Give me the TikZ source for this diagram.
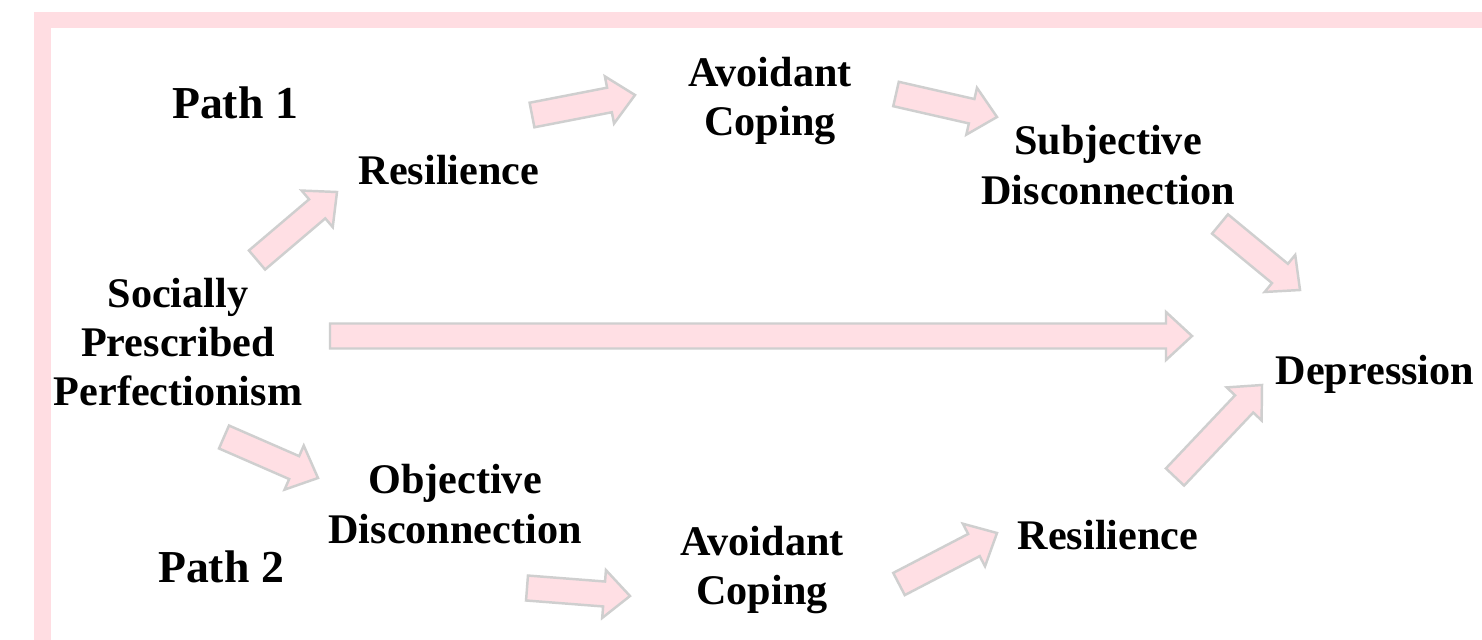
\documentclass[tikz,border=0pt]{standalone}
\usepackage{fontspec}
\setmainfont{Liberation Serif}
\usetikzlibrary{calc}

\definecolor{framepink}{HTML}{FFDDE2}
\definecolor{arrowpink}{HTML}{FFDFE4}
\definecolor{arrowgray}{HTML}{CFCFCF}

\tikzset{
  lbl/.style={font=\fontsize{12}{14}\selectfont\bfseries,align=center,inner sep=0pt},
  pathlbl/.style={font=\fontsize{13}{15}\selectfont\bfseries,inner sep=0pt},
  blockarr/.style={fill=arrowpink,draw=arrowgray,line width=0.7pt,line join=miter}
}

% block arrow from #1 (tail) to #2 (tip)
\newcommand{\blockarrow}[2]{%
  \coordinate (ba) at ($(#2)!0.26cm!(#1)$);
  \path [blockarr]
    ($(#1)!0.125cm!90:(#2)$) -- ($(ba)!0.125cm!-90:(#1)$)
    -- ($(ba)!0.24cm!-90:(#1)$) -- (#2)
    -- ($(ba)!0.24cm!90:(#1)$) -- ($(ba)!0.125cm!90:(#1)$)
    -- ($(#1)!0.125cm!-90:(#2)$) -- cycle;
}

\begin{document}
\begin{tikzpicture}[x=0.01cm,y=-0.01cm]

\useasboundingbox (0,0) rectangle (1482,639);
\fill [white] (0,0) rectangle (1482,639);

% frame
\draw [framepink,line width=0.16cm] (42.5,800) |- (1700,20);

\node [pathlbl] (path1) at (235,103) {Path 1};
\node [pathlbl] (path2) at (221,567) {Path 2};

\node [lbl] (spp) at (178,342) {Socially\\Prescribed\\Perfectionism};
\node [lbl] (res1) at (449,170) {Resilience};
\node [lbl] (avo1) at (770,101) {Avoidant\\Coping};
\node [lbl] (subj) at (1108,165) {Subjective\\Disconnection};
\node [lbl] (dep) at (1375,374) {Depression};
\node [lbl] (obj) at (455,504) {Objective\\Disconnection};
\node [lbl] (avo2) at (762,570) {Avoidant\\Coping};
\node [lbl] (res2) at (1108,535) {Resilience};

% arrow ends
\coordinate (t1) at (257,260);  \coordinate (h1) at (337,192);
\coordinate (t2) at (532,115);  \coordinate (h2) at (635,95);
\coordinate (t3) at (896,94);   \coordinate (h3) at (997,117);
\coordinate (t4) at (1220,224); \coordinate (h4) at (1300,290);
\coordinate (t5) at (330,336);  \coordinate (h5) at (1192,336);
\coordinate (t6) at (224,437);  \coordinate (h6) at (318,478);
\coordinate (t7) at (527,588);  \coordinate (h7) at (630,596);
\coordinate (t8) at (899,584);  \coordinate (h8) at (997,533);
\coordinate (t9) at (1175,477); \coordinate (h9) at (1262,385);

\foreach \i in {1,...,9} {
  \blockarrow{t\i}{h\i}
}

\end{tikzpicture}
\end{document}
